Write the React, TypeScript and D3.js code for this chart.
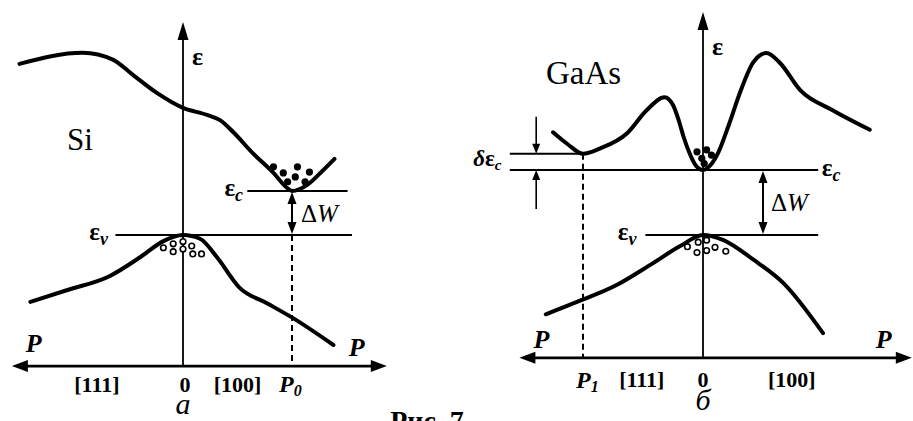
import React from "react";
import * as d3 from "d3";

type Pt = [number, number]; // [quasi-momentum P, energy ε]

// ---------- Si: P in units of P0, ε in units of ΔW (ε_v = 0) ----------
const siConduction: Pt[] = [
  [-1.5, 3.89], [-0.92, 4.14], [-0.64, 3.98], [-0.46, 3.64], [-0.24, 3.23],
  [0, 2.89], [0.22, 2.73], [0.34, 2.61], [0.46, 2.34], [0.64, 1.86],
  [0.83, 1.41], [0.95, 1.08], [1.0, 1.0], [1.14, 1.14], [1.26, 1.41], [1.39, 1.73],
];
const siValence: Pt[] = [
  [-1.4, -1.52], [-1.06, -1.25], [-0.67, -0.93], [-0.39, -0.5], [-0.18, -0.14],
  [0, 0], [0.16, -0.09], [0.31, -0.5], [0.52, -1.2], [0.77, -1.55],
  [1.01, -1.89], [1.38, -2.5],
];
const siElectrons: Pt[] = [
  [0.83, 1.55], [0.92, 1.41], [1.05, 1.55], [1.16, 1.43], [1.03, 1.32], [0.96, 1.21], [1.12, 1.21],
];
const siHoles: Pt[] = [
  [-0.18, -0.29], [-0.09, -0.2], [-0.09, -0.38], [0, -0.15], [0, -0.32],
  [0.08, -0.25], [0.09, -0.43], [0.17, -0.43],
];
const siP0 = 1;
const siGap = 1;

// ---------- GaAs: P in units of |P1|, ε in units of ΔW (ε_v = 0) ----------
const gaasConduction: Pt[] = [
  [-1.25, 1.58], [-1.13, 1.4], [-1.0, 1.25], [-0.86, 1.33], [-0.63, 1.57],
  [-0.47, 1.92], [-0.32, 2.12], [-0.25, 2.0], [-0.2, 1.75], [-0.16, 1.5],
  [-0.11, 1.25], [-0.06, 1.07], [0, 1.0], [0.06, 1.07], [0.13, 1.28],
  [0.22, 1.72], [0.31, 2.2], [0.42, 2.66], [0.53, 2.8], [0.64, 2.65],
  [0.81, 2.23], [1.08, 1.92], [1.39, 1.62],
];
const gaasValence: Pt[] = [
  [-1.31, -1.22], [-1.05, -1.03], [-0.72, -0.77], [-0.44, -0.46], [-0.19, -0.17],
  [0, 0], [0.17, -0.08], [0.42, -0.38], [0.67, -0.74], [1.0, -1.51],
];
const gaasElectrons: Pt[] = [
  [-0.05, 1.28], [0.03, 1.31], [0.07, 1.23], [-0.01, 1.18], [0.01, 1.1],
];
const gaasHoles: Pt[] = [
  [-0.13, -0.18], [-0.05, -0.27], [-0.04, -0.11], [0.03, -0.08], [0.03, -0.24],
  [0.1, -0.19], [0.19, -0.25],
];
const gaasP1 = -1;
const gaasSideValley = 1.25;
const gaasGap = 1;

// Axis text
const siTicks = ["[111]", "0", "[100]"];
const gaasTicks = ["[111]", "0", "[100]"];

const FONT = "Liberation Serif";

type LabelProps = {
  x: number;
  y: number;
  size?: number;
  bold?: boolean;
  italic?: boolean;
  anchor?: "start" | "middle" | "end";
  children: React.ReactNode;
};

function Label({ x, y, size = 22, bold = true, italic = false, anchor = "start", children }: LabelProps) {
  return (
    <text
      x={x}
      y={y}
      fontSize={size}
      textAnchor={anchor}
      fill="#000"
      style={{
        fontFamily: FONT,
        fontWeight: bold ? 700 : 400,
        fontStyle: italic ? "italic" : "normal",
      }}
    >
      {children}
    </text>
  );
}

// filled triangular arrowhead with tip at (x, y) pointing along (dx, dy)
function head(x: number, y: number, dx: number, dy: number, len: number, half: number) {
  const bx = x - dx * len;
  const by = y - dy * len;
  const nx = -dy;
  const ny = dx;
  return `M${x},${y}L${bx + nx * half},${by + ny * half}L${bx - nx * half},${by - ny * half}Z`;
}

function Sub({ base, sub, size }: { base: string; sub: string; size: number }) {
  return (
    <>
      <tspan>{base}</tspan>
      <tspan fontSize={size * 0.72} style={{ fontStyle: "italic" }} dy={size * 0.2}>
        {sub}
      </tspan>
    </>
  );
}

function SiPanel() {
  const x = d3.scaleLinear().domain([0, siP0]).range([183, 292]);
  const y = d3.scaleLinear().domain([0, siGap]).range([235, 191]);
  const pMin = -1.57, pMax = 1.87;
  const eMin = -2.98, eMax = 4.84;
  const line = d3.line<Pt>().x((d) => x(d[0])).y((d) => y(d[1])).curve(d3.curveMonotoneX);
  const axY = y(eMin);
  return (
    <g>
      {/* momentum axis */}
      <line x1={x(pMin) + 10} x2={x(pMax) - 10} y1={axY} y2={axY} stroke="#000" strokeWidth={2.6} />
      <path d={head(x(pMin), axY, -1, 0, 16, 6)} fill="#000" />
      <path d={head(x(pMax), axY, 1, 0, 16, 6)} fill="#000" />
      {/* energy axis */}
      <line x1={x(0)} x2={x(0)} y1={axY} y2={y(eMax) + 12} stroke="#000" strokeWidth={1.8} />
      <path d={head(x(0), y(eMax), 0, -1, 18, 5.5)} fill="#000" />

      {/* band edges */}
      <line x1={x(0.59)} x2={x(1.51)} y1={y(siGap)} y2={y(siGap)} stroke="#000" strokeWidth={1.8} />
      <line x1={x(-0.62)} x2={x(1.55)} y1={y(0)} y2={y(0)} stroke="#000" strokeWidth={1.8} />
      <line x1={x(siP0)} x2={x(siP0)} y1={y(0)} y2={axY} stroke="#000" strokeWidth={2} strokeDasharray="6,4" />

      {/* gap arrow */}
      <line x1={x(siP0)} x2={x(siP0)} y1={y(siGap) + 10} y2={y(0) - 10} stroke="#000" strokeWidth={2} />
      <path d={head(x(siP0), y(siGap) + 1, 0, -1, 12, 4.5)} fill="#000" />
      <path d={head(x(siP0), y(0) - 1, 0, 1, 12, 4.5)} fill="#000" />

      {/* bands */}
      <path d={line(siConduction) ?? ""} fill="none" stroke="#000" strokeWidth={4} strokeLinecap="round" />
      <path d={line(siValence) ?? ""} fill="none" stroke="#000" strokeWidth={4} strokeLinecap="round" />

      {siElectrons.map((d, i) => (
        <circle key={"e" + i} cx={x(d[0])} cy={y(d[1])} r={3.6} fill="#000" />
      ))}
      {siHoles.map((d, i) => (
        <circle key={"h" + i} cx={x(d[0])} cy={y(d[1])} r={2.8} fill="#fff" stroke="#000" strokeWidth={1.6} />
      ))}

      {/* labels */}
      <Label x={x(0) + 9} y={y(eMax) + 43} size={26}>ε</Label>
      <Label x={67} y={150} size={31} bold={false}>Si</Label>
      <Label x={x(0.38)} y={y(siGap) + 5} size={25}>
        <Sub base="ε" sub="c" size={25} />
      </Label>
      <Label x={x(siP0) + 9} y={y(siGap / 2) + 9} size={25} bold={false}>
        Δ<tspan style={{ fontStyle: "italic" }}>W</tspan>
      </Label>
      <Label x={x(-0.86)} y={y(0) + 5} size={25}>
        <Sub base="ε" sub="v" size={25} />
      </Label>
      <Label x={x(pMin) + 14} y={axY - 14} size={26} italic>P</Label>
      <Label x={x(pMax) - 38} y={axY - 10} size={26} italic>P</Label>
      <Label x={x(-0.79)} y={axY + 26} size={22} anchor="middle">{siTicks[0]}</Label>
      <Label x={x(0) + 2} y={axY + 26} size={22} anchor="middle">{siTicks[1]}</Label>
      <Label x={x(0.5)} y={axY + 26} size={22} anchor="middle">{siTicks[2]}</Label>
      <Label x={x(siP0) - 13} y={axY + 26} size={24} italic>
        P<tspan fontSize={16} dy={4}>0</tspan>
      </Label>
      <Label x={x(0)} y={axY + 48} size={30} bold={false} italic anchor="middle">а</Label>
    </g>
  );
}

function GaAsPanel() {
  const x = d3.scaleLinear().domain([0, gaasP1]).range([703, 583]);
  const y = d3.scaleLinear().domain([0, gaasGap]).range([235, 170]);
  const pMin = -1.53, pMax = 1.74;
  const eMin = -1.89, eMax = 3.43;
  const line = d3.line<Pt>().x((d) => x(d[0])).y((d) => y(d[1])).curve(d3.curveMonotoneX);
  const axY = y(eMin);
  const dX = x(-1.39);
  return (
    <g>
      {/* momentum axis */}
      <line x1={x(pMin) + 10} x2={x(pMax) - 10} y1={axY} y2={axY} stroke="#000" strokeWidth={2.6} />
      <path d={head(x(pMin), axY, -1, 0, 16, 6)} fill="#000" />
      <path d={head(x(pMax), axY, 1, 0, 16, 6)} fill="#000" />
      {/* energy axis */}
      <line x1={x(0)} x2={x(0)} y1={axY} y2={y(eMax) + 12} stroke="#000" strokeWidth={1.8} />
      <path d={head(x(0), y(eMax), 0, -1, 18, 5.5)} fill="#000" />

      {/* band edges */}
      <line x1={x(-1.61)} x2={x(0.96)} y1={y(gaasGap)} y2={y(gaasGap)} stroke="#000" strokeWidth={1.8} />
      <line x1={x(-1.61)} x2={x(gaasP1)} y1={y(gaasSideValley)} y2={y(gaasSideValley)} stroke="#000" strokeWidth={1.8} />
      <line x1={x(-0.48)} x2={x(0.96)} y1={y(0)} y2={y(0)} stroke="#000" strokeWidth={1.8} />
      <line x1={x(gaasP1)} x2={x(gaasP1)} y1={y(gaasSideValley)} y2={axY} stroke="#000" strokeWidth={2} strokeDasharray="6,4" />

      {/* δε_c marker */}
      <line x1={dX} x2={dX} y1={y(1.82)} y2={y(gaasSideValley) - 8} stroke="#000" strokeWidth={1.6} />
      <path d={head(dX, y(gaasSideValley), 0, 1, 10, 4)} fill="#000" />
      <line x1={dX} x2={dX} y1={y(0.4)} y2={y(gaasGap) + 8} stroke="#000" strokeWidth={1.6} />
      <path d={head(dX, y(gaasGap), 0, -1, 10, 4)} fill="#000" />

      {/* gap arrow */}
      <line x1={x(0.5)} x2={x(0.5)} y1={y(gaasGap) + 10} y2={y(0) - 10} stroke="#000" strokeWidth={2} />
      <path d={head(x(0.5), y(gaasGap) + 1, 0, -1, 12, 4.5)} fill="#000" />
      <path d={head(x(0.5), y(0) - 1, 0, 1, 12, 4.5)} fill="#000" />

      {/* bands */}
      <path d={line(gaasConduction) ?? ""} fill="none" stroke="#000" strokeWidth={4} strokeLinecap="round" />
      <path d={line(gaasValence) ?? ""} fill="none" stroke="#000" strokeWidth={4} strokeLinecap="round" />

      {gaasElectrons.map((d, i) => (
        <circle key={"e" + i} cx={x(d[0])} cy={y(d[1])} r={3.6} fill="#000" />
      ))}
      {gaasHoles.map((d, i) => (
        <circle key={"h" + i} cx={x(d[0])} cy={y(d[1])} r={2.8} fill="#fff" stroke="#000" strokeWidth={1.6} />
      ))}

      {/* labels */}
      <Label x={x(0) + 9} y={y(eMax) + 43} size={26}>ε</Label>
      <Label x={546} y={84} size={33} bold={false}>GaAs</Label>
      <Label x={dX - 63} y={y(gaasSideValley) + 12} size={23} italic>
        δ<tspan style={{ fontStyle: "normal" }}>ε</tspan><tspan fontSize={15} dy={4}>c</tspan>
      </Label>
      <Label x={x(0.99)} y={y(gaasGap) + 6} size={25}>
        <Sub base="ε" sub="c" size={25} />
      </Label>
      <Label x={x(0.5) + 8} y={y(gaasGap / 2) + 8} size={25} bold={false}>
        Δ<tspan style={{ fontStyle: "italic" }}>W</tspan>
      </Label>
      <Label x={x(-0.71)} y={y(0) + 5} size={25}>
        <Sub base="ε" sub="v" size={25} />
      </Label>
      <Label x={x(pMin) + 14} y={axY - 10} size={26} italic>P</Label>
      <Label x={x(pMax) - 36} y={axY - 10} size={26} italic>P</Label>
      <Label x={x(gaasP1) - 7} y={axY + 30} size={24} italic>
        P<tspan fontSize={16} dy={4}>1</tspan>
      </Label>
      <Label x={x(-0.51)} y={axY + 29} size={22} anchor="middle">{gaasTicks[0]}</Label>
      <Label x={x(0)} y={axY + 29} size={22} anchor="middle">{gaasTicks[1]}</Label>
      <Label x={x(0.74)} y={axY + 29} size={22} anchor="middle">{gaasTicks[2]}</Label>
      <Label x={x(0)} y={axY + 52} size={30} bold={false} italic anchor="middle">б</Label>
    </g>
  );
}

export default function App() {
  return (
    <svg
      width={913}
      height={421}
      viewBox="0 0 913 421"
      style={{ position: "absolute", left: 0, top: 0, background: "#fff" }}
    >
      <rect width={913} height={421} fill="#fff" />
      <SiPanel />
      <GaAsPanel />
      <Label x={427} y={430} size={28} anchor="middle">Рис. 7</Label>
    </svg>
  );
}
